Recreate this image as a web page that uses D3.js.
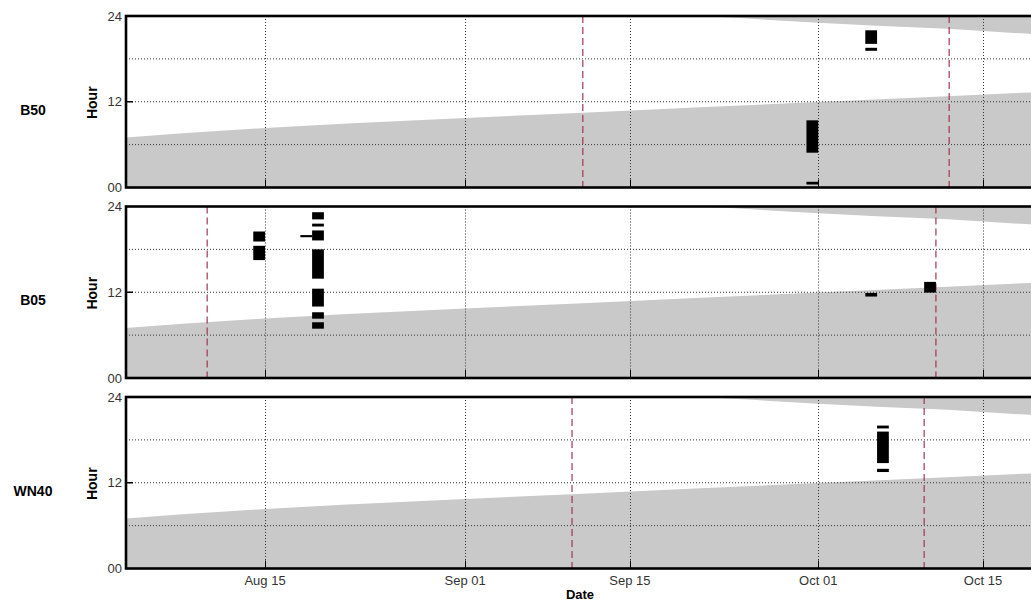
<!DOCTYPE html>
<html>
<head>
<meta charset="utf-8">
<script src="https://cdn.jsdelivr.net/npm/d3@7"></script>
<style>
  body { margin: 0; background: #fff; }
  svg { display: block; font-family: "Liberation Sans", Arial, sans-serif; }
</style>
</head>
<body>
<svg id="chart"></svg>
<script>
// panel names (stations)
const panelNames = ["B50", "B05", "WN40"];

// x axis ticks
const xTickDates = ["2010-08-15", "2010-09-01", "2010-09-15", "2010-10-01", "2010-10-15"];
const xTickLabels = ["Aug 15", "Sep 01", "Sep 15", "Oct 01", "Oct 15"];
const xDomain = ["2010-08-03T04:30:00Z", "2010-10-19T08:00:00Z"];

// y axis ticks (hour of day)
const yTickValues = [0, 12, 24];
const yTickLabels = ["00", "12", "24"];
const yGridHours = [6, 12, 18];

// night shading: hour of sunrise / sunset per date
const sunriseDates = ["2010-08-01", "2010-08-03", "2010-08-08", "2010-08-15", "2010-08-22", "2010-09-01",
  "2010-09-11", "2010-09-21", "2010-10-01", "2010-10-11", "2010-10-21"];
const sunriseHours = [6.75, 6.97, 7.6, 8.32, 8.95, 9.72, 10.47, 11.22, 11.97, 12.7, 13.45];
const sunsetDates = ["2010-09-19", "2010-09-21", "2010-09-28", "2010-10-01", "2010-10-06", "2010-10-12", "2010-10-19", "2010-10-21"];
const sunsetHours = [24.25, 24.05, 23.33, 23.06, 22.65, 22.2, 21.5, 21.3];

// detections: [day, start hour, end hour]
const b50Bars = [
  ["2010-09-30", 4.87, 9.4],
  ["2010-09-30", 0.42, 0.8],
  ["2010-10-05", 20.1, 22.0],
  ["2010-10-05", 19.13, 19.55]
];
const b05Bars = [
  ["2010-08-14", 19.1, 20.5],
  ["2010-08-14", 16.5, 18.5],
  ["2010-08-18", 19.7, 20.0],
  ["2010-08-19", 22.2, 23.2],
  ["2010-08-19", 21.2, 21.6],
  ["2010-08-19", 19.25, 20.65],
  ["2010-08-19", 13.9, 18.0],
  ["2010-08-19", 10.0, 12.5],
  ["2010-08-19", 8.3, 9.2],
  ["2010-08-19", 6.9, 7.8],
  ["2010-10-05", 11.4, 11.9],
  ["2010-10-10", 11.95, 13.45]
];
const wn40Bars = [
  ["2010-10-06", 19.6, 20.0],
  ["2010-10-06", 14.75, 19.16],
  ["2010-10-06", 13.5, 13.95]
];

// red dashed markers per panel
const b50Marks = ["2010-09-11", "2010-10-12T03:00:00Z"];
const b05Marks = ["2010-08-10T02:00:00Z", "2010-10-11"];
const wn40Marks = ["2010-09-10T02:00:00Z", "2010-10-10"];

const panelBars = [b50Bars, b05Bars, wn40Bars];
const panelMarks = [b50Marks, b05Marks, wn40Marks];

const width = 1031, height = 600;
const left = 126, right = 1034;
const panelTop0 = 16, panelStep = 190.5, panelH = 171.5;

const svg = d3.select("#chart").attr("width", width).attr("height", height);

const x = d3.scaleUtc()
  .domain(xDomain.map(d => d3.isoParse(d)))
  .range([left, right]);

const day = s => d3.isoParse(s.length === 10 ? s + "T00:00:00Z" : s);

panelNames.forEach((name, i) => {
  const top = panelTop0 + i * panelStep;
  const y = d3.scaleLinear().domain([0, 24]).range([top + panelH, top]);
  const g = svg.append("g");

  // clip to the plot box
  const clipId = "clip" + i;
  svg.append("clipPath").attr("id", clipId)
    .append("rect").attr("x", left).attr("y", top).attr("width", right - left).attr("height", panelH);
  const plot = g.append("g").attr("clip-path", `url(#${clipId})`);

  // night shading
  const rise = sunriseDates.map((d, k) => ({ t: day(d), h: sunriseHours[k] }));
  const set = sunsetDates.map((d, k) => ({ t: day(d), h: sunsetHours[k] }));
  plot.append("path").datum(rise)
    .attr("fill", "#c9c9c9")
    .attr("d", d3.area().x(d => x(d.t)).y0(y(0)).y1(d => y(d.h)));
  plot.append("path").datum(set)
    .attr("fill", "#c9c9c9")
    .attr("d", d3.area().x(d => x(d.t)).y0(y(24) - 5).y1(d => y(d.h)));

  // grid
  plot.selectAll(".hgrid").data(yGridHours).enter().append("line")
    .attr("x1", left).attr("x2", right)
    .attr("y1", d => y(d)).attr("y2", d => y(d))
    .attr("stroke", "#333").attr("stroke-width", 1).attr("stroke-dasharray", "1,2");
  plot.selectAll(".vgrid").data(xTickDates).enter().append("line")
    .attr("x1", d => Math.round(x(day(d))) + 0.5).attr("x2", d => Math.round(x(day(d))) + 0.5)
    .attr("y1", top).attr("y2", top + panelH)
    .attr("stroke", "#333").attr("stroke-width", 1).attr("stroke-dasharray", "1,2");

  // markers
  plot.selectAll(".mark").data(panelMarks[i]).enter().append("line")
    .attr("x1", d => x(day(d))).attr("x2", d => x(day(d)))
    .attr("y1", top).attr("y2", top + panelH)
    .attr("stroke", "#a3354f").attr("stroke-width", 1.2).attr("stroke-dasharray", "7,4");

  // detection bars
  plot.selectAll(".bar").data(panelBars[i]).enter().append("rect")
    .attr("x", d => x(day(d[0])))
    .attr("width", d => x(d3.utcDay.offset(day(d[0]), 1)) - x(day(d[0])))
    .attr("y", d => y(d[2]))
    .attr("height", d => y(d[1]) - y(d[2]))
    .attr("fill", "#000");

  // bottom ticks and left tick
  g.selectAll(".xtick").data(xTickDates).enter().append("line")
    .attr("x1", d => Math.round(x(day(d))) + 0.5).attr("x2", d => Math.round(x(day(d))) + 0.5)
    .attr("y1", top + panelH).attr("y2", top + panelH - 8)
    .attr("stroke", "#000").attr("stroke-width", 1);
  g.append("line")
    .attr("x1", left).attr("x2", left + 7).attr("y1", y(12)).attr("y2", y(12))
    .attr("stroke", "#000").attr("stroke-width", 1.5);

  // frame
  g.append("rect")
    .attr("x", left).attr("y", top).attr("width", right - left).attr("height", panelH)
    .attr("fill", "none").attr("stroke", "#000").attr("stroke-width", 2.6);

  // y tick labels
  g.selectAll(".ylab").data(yTickValues).enter().append("text")
    .attr("x", left - 4).attr("y", d => y(d)).attr("dy", "0.36em")
    .attr("text-anchor", "end").attr("font-size", 13).attr("fill", "#333")
    .text((d, k) => yTickLabels[k]);

  // axis label and panel name
  g.append("text")
    .attr("transform", `translate(97, ${top + panelH / 2 + 1}) rotate(-90)`)
    .attr("text-anchor", "middle").attr("font-size", 14).attr("font-weight", "bold")
    .text("Hour");
  g.append("text")
    .attr("x", 33).attr("y", top + panelH / 2 + 13)
    .attr("text-anchor", "middle").attr("font-size", 14).attr("font-weight", "bold")
    .text(name);

  // x tick labels on bottom panel
  if (i === panelNames.length - 1) {
    g.selectAll(".xlab").data(xTickDates).enter().append("text")
      .attr("x", d => x(day(d))).attr("y", top + panelH + 16.5)
      .attr("text-anchor", "middle").attr("font-size", 13).attr("fill", "#333")
      .text((d, k) => xTickLabels[k]);
    g.append("text")
      .attr("x", (left + right) / 2).attr("y", 598.5)
      .attr("text-anchor", "middle").attr("font-size", 13).attr("font-weight", "bold")
      .text("Date");
  }
});
</script>
</body>
</html>
